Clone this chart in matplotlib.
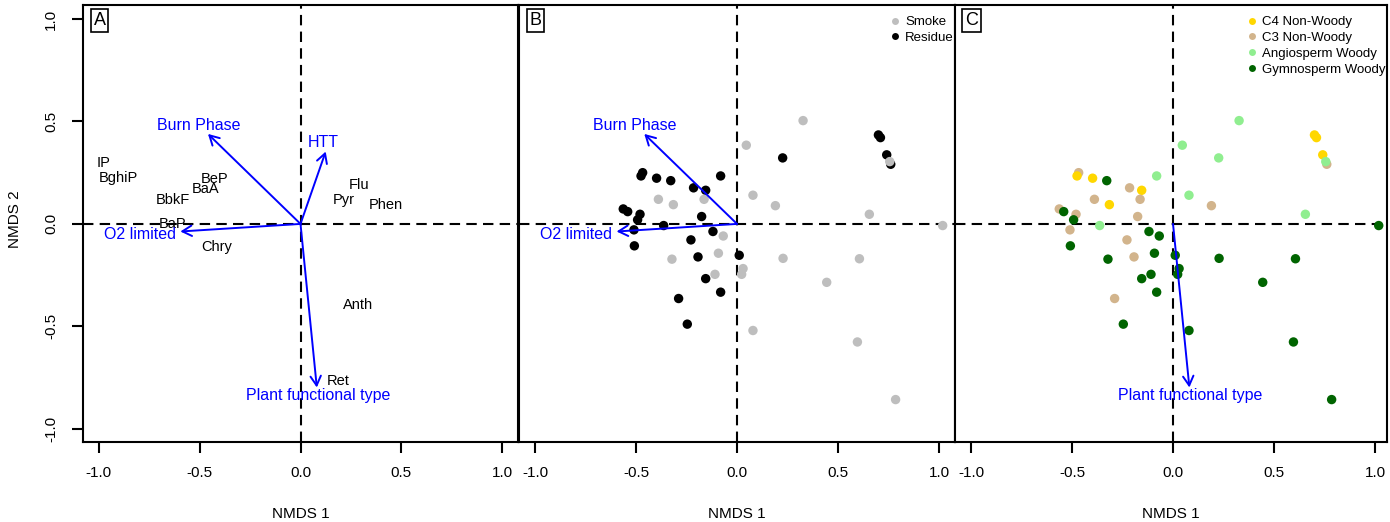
import numpy as np
import matplotlib
matplotlib.use("Agg")
import matplotlib.pyplot as plt
from matplotlib.lines import Line2D

plt.rcParams['font.family'] = ['Liberation Sans', 'DejaVu Sans']
plt.rcParams['axes.unicode_minus'] = False

# NMDS site scores (same samples in panels B and C)
nmds1 = [0.761, 0.327, 0.046, 0.226, 0.700, 0.710, 0.741, 0.756,
         -0.467, -0.475, -0.398, -0.328, -0.081, -0.215, -0.155,
         -0.389, -0.315, -0.163, 0.079, 0.190, 0.655, 1.018,
         -0.563, -0.541, -0.480, -0.492, -0.175, -0.363, -0.510, -0.119,
         -0.068, -0.508, -0.228, -0.092, -0.193, -0.322, 0.011, 0.228,
         0.606, 0.030, 0.023, -0.109, -0.155, -0.081, -0.289, -0.246,
         0.444, 0.079, 0.596, 0.785]
nmds2 = [0.291, 0.504, 0.384, 0.322, 0.434, 0.421, 0.337, 0.304,
         0.250, 0.234, 0.223, 0.211, 0.234, 0.176, 0.164,
         0.120, 0.094, 0.120, 0.140, 0.089, 0.047, -0.008,
         0.073, 0.060, 0.047, 0.020, 0.036, -0.008, -0.029, -0.037,
         -0.059, -0.107, -0.078, -0.143, -0.161, -0.172, -0.153, -0.168,
         -0.170, -0.218, -0.246, -0.246, -0.267, -0.333, -0.364, -0.489,
         -0.285, -0.520, -0.576, -0.857]
phase = ['R', 'S', 'S', 'R', 'R', 'R', 'R', 'S',
         'R', 'R', 'R', 'R', 'R', 'R', 'R',
         'S', 'S', 'S', 'S', 'S', 'S', 'S',
         'R', 'R', 'R', 'R', 'R', 'R', 'R', 'R',
         'S', 'R', 'R', 'S', 'R', 'S', 'R', 'S',
         'S', 'S', 'S', 'S', 'R', 'R', 'R', 'R',
         'S', 'S', 'S', 'S']
pft = ['C3', 'Ang', 'Ang', 'Ang', 'C4', 'C4', 'C4', 'Ang',
       'C3', 'C4', 'C4', 'Gym', 'Ang', 'C3', 'C4',
       'C3', 'C4', 'C3', 'Ang', 'C3', 'Ang', 'Gym',
       'C3', 'Gym', 'C3', 'Gym', 'C3', 'Ang', 'C3', 'Gym',
       'Gym', 'Gym', 'C3', 'Gym', 'C3', 'Gym', 'Gym', 'Gym',
       'Gym', 'Gym', 'Gym', 'Gym', 'Gym', 'Gym', 'C3', 'Gym',
       'Gym', 'Gym', 'Gym', 'Gym']

# PAH species scores (panel A)
species = ['IP', 'BghiP', 'BeP', 'BaA', 'BbkF', 'BaP', 'Chry',
           'Flu', 'Pyr', 'Phen', 'Anth', 'Ret']
sp_x = [-0.977, -0.904, -0.424, -0.472, -0.635, -0.634, -0.417,
        0.289, 0.216, 0.421, 0.287, 0.186]
sp_y = [0.296, 0.226, 0.220, 0.171, 0.117, 0.0, -0.111,
        0.190, 0.117, 0.093, -0.395, -0.766]

# fitted vectors: name, arrow tip, label position
vec_names = ['Burn Phase', 'HTT', 'O2 limited', 'Plant functional type']
vec_x = [-0.459, 0.125, -0.596, 0.081]
vec_y = [0.439, 0.353, -0.037, -0.798]
lab_x = [-0.505, 0.111, -0.797, 0.086]
lab_y = [0.481, 0.397, -0.054, -0.839]

phase_names = {'S': 'Smoke', 'R': 'Residue'}
phase_cols = {'S': '#BEBEBE', 'R': 'black'}
pft_names = {'C4': 'C4 Non-Woody', 'C3': 'C3 Non-Woody',
             'Ang': 'Angiosperm Woody', 'Gym': 'Gymnosperm Woody'}
pft_cols = {'C4': '#FFD700', 'C3': '#D2B48C', 'Ang': '#90EE90', 'Gym': '#006400'}

fig = plt.figure(figsize=(13.9, 5.22), dpi=100)
bottom, height = 80 / 522, 437 / 522
axA = fig.add_axes([83 / 1390, bottom, 435 / 1390, height])
axB = fig.add_axes([519 / 1390, bottom, 436 / 1390, height])
axC = fig.add_axes([955 / 1390, bottom, 432 / 1390, height])

xlims = [(-1.079, 1.079), (-1.079, 1.079), (-1.079, 1.059)]
for ax, lim, letter in zip([axA, axB, axC], xlims, ['A', 'B', 'C']):
    ax.set_xlim(*lim)
    ax.set_ylim(-1.064, 1.068)
    ax.axhline(0, color='black', lw=1.5, ls=(0, (5, 3)), zorder=1)
    ax.axvline(0, color='black', lw=1.5, ls=(0, (5, 3)), zorder=1)
    for s in ax.spines.values():
        s.set_linewidth(1.5)
    ax.set_xticks([-1.0, -0.5, 0.0, 0.5, 1.0])
    ax.set_xticklabels(['-1.0', '-0.5', '0.0', '0.5', '1.0'])
    ax.tick_params(axis='x', length=8, width=1.5, pad=9, labelsize=11)
    ax.set_xlabel('NMDS 1', fontsize=11)
    ax.xaxis.set_label_coords(0.5, -0.148)
    ax.text(0.038, 0.9645, letter, transform=ax.transAxes, ha='center',
            va='center', fontsize=13,
            bbox=dict(boxstyle='square,pad=0.15', fc='white', ec='black', lw=1.2))

axA.set_yticks([-1.0, -0.5, 0.0, 0.5, 1.0])
axA.set_yticklabels(['-1.0', '-0.5', '0.0', '0.5', '1.0'], rotation=90, va='center')
axA.tick_params(axis='y', length=8, width=1.5, pad=10, labelsize=11)
axA.set_ylabel('NMDS 2', fontsize=11)
axA.yaxis.set_label_coords(-0.14, 0.51)
for ax in [axB, axC]:
    ax.set_yticks([])


def draw_vector(ax, i):
    ax.annotate('', xy=(vec_x[i], vec_y[i]), xytext=(0, 0),
                arrowprops=dict(arrowstyle='->,head_length=0.45,head_width=0.25',
                                color='#0000FF', lw=1.4, mutation_scale=15,
                                shrinkA=0, shrinkB=0), zorder=4)
    ax.text(lab_x[i], lab_y[i], vec_names[i], color='#0000FF', fontsize=11.5,
            ha='center', va='center', zorder=5)


# Panel A
for name, x, y in zip(species, sp_x, sp_y):
    axA.text(x, y, name, fontsize=10.5, ha='center', va='center', zorder=3)
for i in range(4):
    draw_vector(axA, i)

leg_kw = dict(loc='upper right', bbox_to_anchor=(1.0, 0.978), frameon=False,
              fontsize=9.5, handlelength=1.0, handletextpad=0.25,
              labelspacing=0.28, borderaxespad=0.0, borderpad=0.1)

# Panel B
axB.scatter(nmds1, nmds2, s=46, c=[phase_cols[p] for p in phase],
            linewidths=0, zorder=2)
for i in [0, 2]:
    draw_vector(axB, i)
hB = [Line2D([], [], ls='none', marker='o', ms=5, mec='none',
             mfc=phase_cols[k], label=phase_names[k]) for k in ['S', 'R']]
axB.legend(handles=hB, **leg_kw)

# Panel C
axC.scatter(nmds1, nmds2, s=46, c=[pft_cols[p] for p in pft],
            linewidths=0, zorder=2)
draw_vector(axC, 3)
hC = [Line2D([], [], ls='none', marker='o', ms=5, mec='none',
             mfc=pft_cols[k], label=pft_names[k]) for k in ['C4', 'C3', 'Ang', 'Gym']]
axC.legend(handles=hC, **leg_kw)

fig.savefig('out.png', dpi=100)
